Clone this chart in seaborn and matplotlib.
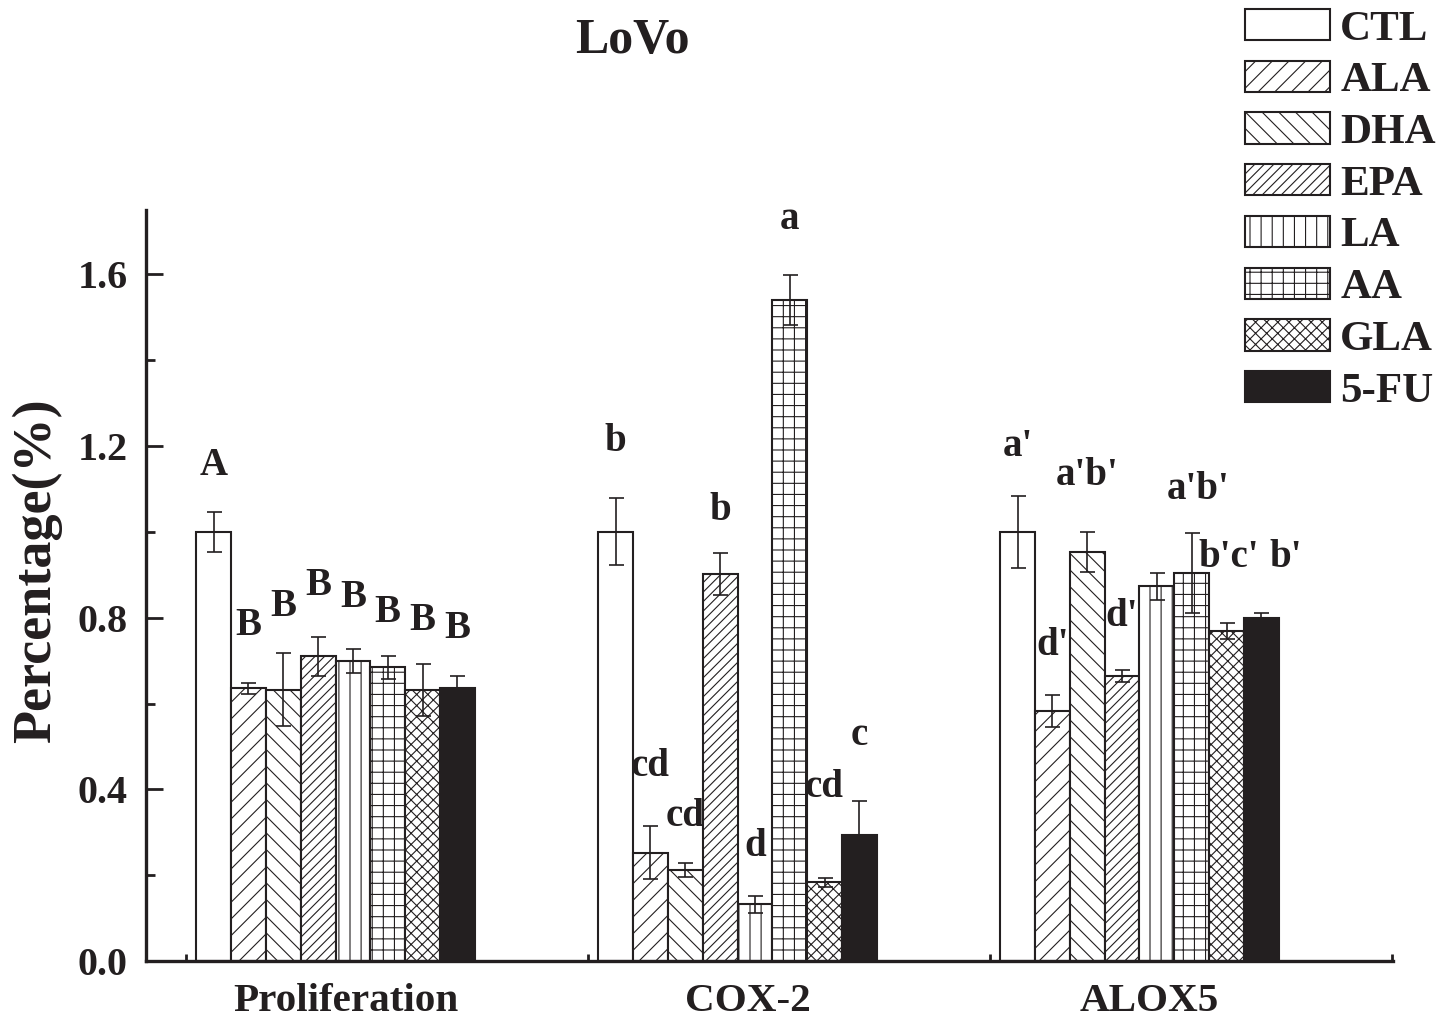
import numpy as np
import pandas as pd
import matplotlib
matplotlib.use("Agg")
import matplotlib.pyplot as plt
import seaborn as sns
from matplotlib.ticker import MultipleLocator

# ---------------- data ----------------
genes = ["Proliferation", "COX-2", "ALOX5"]
treatments = ["CTL", "ALA", "DHA", "EPA", "LA", "AA", "GLA", "5-FU"]

prolif = [1.000, 0.635, 0.632, 0.710, 0.700, 0.684, 0.632, 0.635]
prolif_err = [0.047, 0.012, 0.085, 0.045, 0.028, 0.026, 0.060, 0.030]
cox2 = [1.000, 0.252, 0.212, 0.901, 0.132, 1.540, 0.183, 0.294]
cox2_err = [0.078, 0.062, 0.017, 0.049, 0.020, 0.058, 0.010, 0.078]
alox5 = [1.000, 0.582, 0.953, 0.665, 0.873, 0.904, 0.769, 0.800]
alox5_err = [0.084, 0.037, 0.046, 0.014, 0.032, 0.094, 0.019, 0.012]

# significance letters and their baseline heights
prolif_sig = ["A", "B", "B", "B", "B", "B", "B", "B"]
prolif_sig_y = [1.133, 0.760, 0.803, 0.853, 0.824, 0.790, 0.772, 0.752]
cox2_sig = ["b", "cd", "cd", "b", "d", "a", "cd", "c"]
cox2_sig_y = [1.188, 0.432, 0.315, 1.028, 0.244, 1.706, 0.382, 0.504]
alox5_sig = ["a'", "d'", "a'b'", "d'", "", "a'b'", "b'c'", "b'"]
alox5_sig_y = [1.177, 0.712, 1.109, 0.781, 0.0, 1.076, 0.918, 0.918]
alox5_sig_dx = [0, 0, 0, 0, 0, 0.17, 0.05, 0.7]   # in bar widths

hatches = ["", "////", "\\\\\\\\", "///////", "|||", "+++", "xxxxxx", ""]
dark = "#231f20"
colors = ["white"] * 7 + [dark]

# ---------------- style ----------------
sns.set_theme(style="ticks")
plt.rcParams["font.family"] = ["Liberation Serif", "DejaVu Serif"]
plt.rcParams["font.weight"] = "bold"
plt.rcParams["hatch.linewidth"] = 0.4
plt.rcParams["hatch.color"] = dark
plt.rcParams["axes.edgecolor"] = dark
plt.rcParams["xtick.color"] = dark
plt.rcParams["ytick.color"] = dark
plt.rcParams["text.color"] = dark

W, H, DPI = 1450, 1018, 200
fig = plt.figure(figsize=(W / DPI, H / DPI), dpi=DPI)
fig.patch.set_facecolor("white")
ax = fig.add_axes([146 / W, 1 - 961 / H, (1393 - 146) / W, (961 - 210) / H])
ax.set_facecolor("white")

rows = []
for g, vals in zip(genes, [prolif, cox2, alox5]):
    for t, v in zip(treatments, vals):
        rows.append({"gene": g, "treatment": t, "value": v})
df = pd.DataFrame(rows)

sns.barplot(data=df, x="gene", y="value", hue="treatment", order=genes,
            hue_order=treatments, palette=dict(zip(treatments, colors)),
            width=0.693, gap=0, errorbar=None, saturation=1,
            edgecolor=dark, linewidth=0.75, legend=False, ax=ax)

bar_containers = list(ax.containers)
for cont, h in zip(bar_containers, hatches):
    for p in cont:
        p.set_hatch(h)

errs = [prolif_err, cox2_err, alox5_err]
sigs = [prolif_sig, cox2_sig, alox5_sig]
sig_ys = [prolif_sig_y, cox2_sig_y, alox5_sig_y]
sig_dx = [[0] * 8, [0] * 8, alox5_sig_dx]

for ti, cont in enumerate(bar_containers):
    for gi, p in enumerate(cont):
        xc = p.get_x() + p.get_width() / 2
        ax.errorbar(xc, p.get_height(), yerr=errs[gi][ti], fmt="none",
                    ecolor=dark, elinewidth=0.6, capsize=2.7, capthick=0.6,
                    zorder=4)
        lab = sigs[gi][ti]
        if lab:
            ax.text(xc + sig_dx[gi][ti] * p.get_width(), sig_ys[gi][ti], lab,
                    ha="center", va="baseline", fontsize=14, fontweight="bold",
                    zorder=5)

# ---------------- axes ----------------
ax.set_xlim(-0.4714, 2.6306)
ax.set_ylim(0, 1.75)
sns.despine(ax=ax)
for s in ["left", "bottom"]:
    ax.spines[s].set_linewidth(1.2)
    ax.spines[s].set_color(dark)

ax.set_yticks(np.arange(0, 1.61, 0.4))
ax.set_yticklabels([f"{v:.1f}" for v in np.arange(0, 1.61, 0.4)])
ax.yaxis.set_minor_locator(MultipleLocator(0.2))
ax.tick_params(axis="y", which="major", direction="in", length=6.1, width=1.0,
               pad=6.5, labelsize=14.4)
ax.tick_params(axis="y", which="minor", direction="in", length=3.2, width=1.0)

ax.set_xticks([i + 0.128 for i in range(len(genes))])
ax.set_xticklabels([])
ax.set_xticks([-0.372, 0.628, 1.628, 2.628], minor=True)
ax.tick_params(axis="x", which="major", direction="in", length=5.4, width=1.2)
ax.tick_params(axis="x", which="minor", direction="in", length=2.6, width=1.0)
ax.set_xlabel("")
ax.set_ylabel("")

xtrans = ax.get_xaxis_transform()
for i, g in enumerate(genes):
    ax.text(i + 0.025, -(1011 - 961) / (961 - 210), g, transform=xtrans,
            ha="center", va="baseline", fontsize=14.8, fontweight="bold")

fig.text(632 / W, 1 - 53 / H, "LoVo", ha="center", va="baseline",
         fontsize=18, fontweight="bold")
fig.text(37 / W, 1 - 571 / H, "Percentage(%)", rotation=90, ha="center",
         va="center", fontsize=19.5, fontweight="bold")

fig.legend(handles=bar_containers, labels=treatments, loc="upper left",
           bbox_to_anchor=(1245 / W, 1 - 9 / H), frameon=False, fontsize=15.5,
           handlelength=1.98, handleheight=0.74, handletextpad=0.23,
           labelspacing=0.28, borderpad=0, borderaxespad=0)

fig.savefig("out.png", dpi=DPI, facecolor="white")
